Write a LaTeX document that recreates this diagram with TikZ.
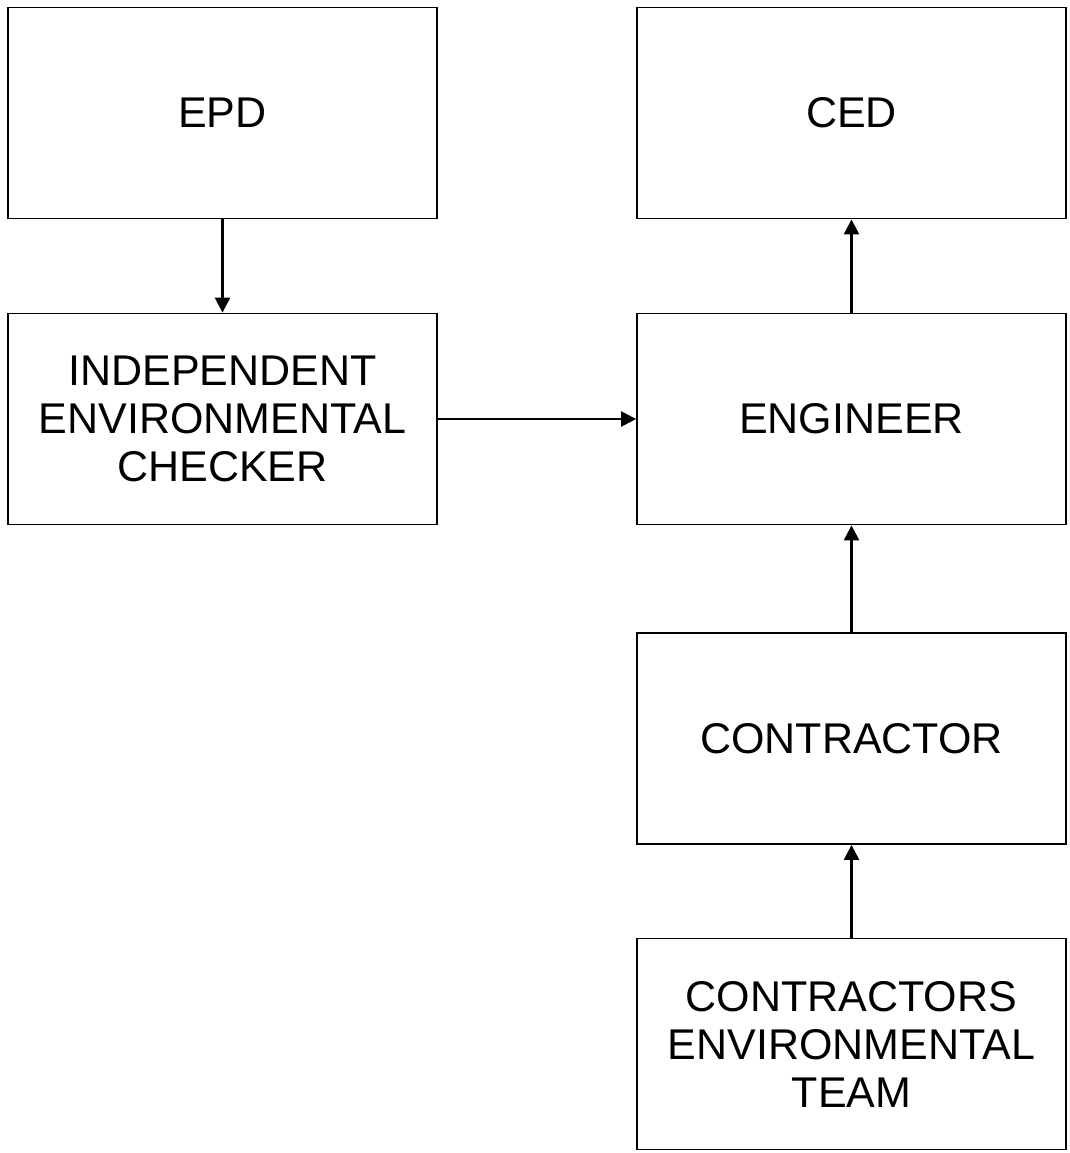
\documentclass[tikz,border=0pt]{standalone}
\usepackage{fontspec}
\setmainfont{Liberation Sans}
\usetikzlibrary{arrows.meta}
\begin{document}
\begin{tikzpicture}[x=1pt,y=-1pt,
  box/.style={draw,line width=1.8pt,minimum width=429pt,minimum height=211pt,align=center,
    font=\fontsize{43}{48}\selectfont,inner sep=0pt},
  conn/.style={line width=2.4pt,-{Triangle[length=15pt,width=15pt]}}]
\useasboundingbox (0,0) rectangle (1069,1153);
\node[box] (epd) at (222.5,113) {EPD};
\node[box] (ced) at (851.5,113) {CED};
\node[box] (iec) at (222.5,419) {INDEPENDENT\\ENVIRONMENTAL\\CHECKER};
\node[box] (eng) at (851.5,419) {ENGINEER};
\node[box] (con) at (851.5,738.5) {CONTRACTOR};
\node[box] (cet) at (851.5,1044) {CONTRACTORS\\ENVIRONMENTAL\\TEAM};
\draw[conn] (epd) -- (iec);
\draw[conn] (eng) -- (ced);
\draw[conn] (iec) -- (eng);
\draw[conn] (con) -- (eng);
\draw[conn] (cet) -- (con);
\end{tikzpicture}
\end{document}
